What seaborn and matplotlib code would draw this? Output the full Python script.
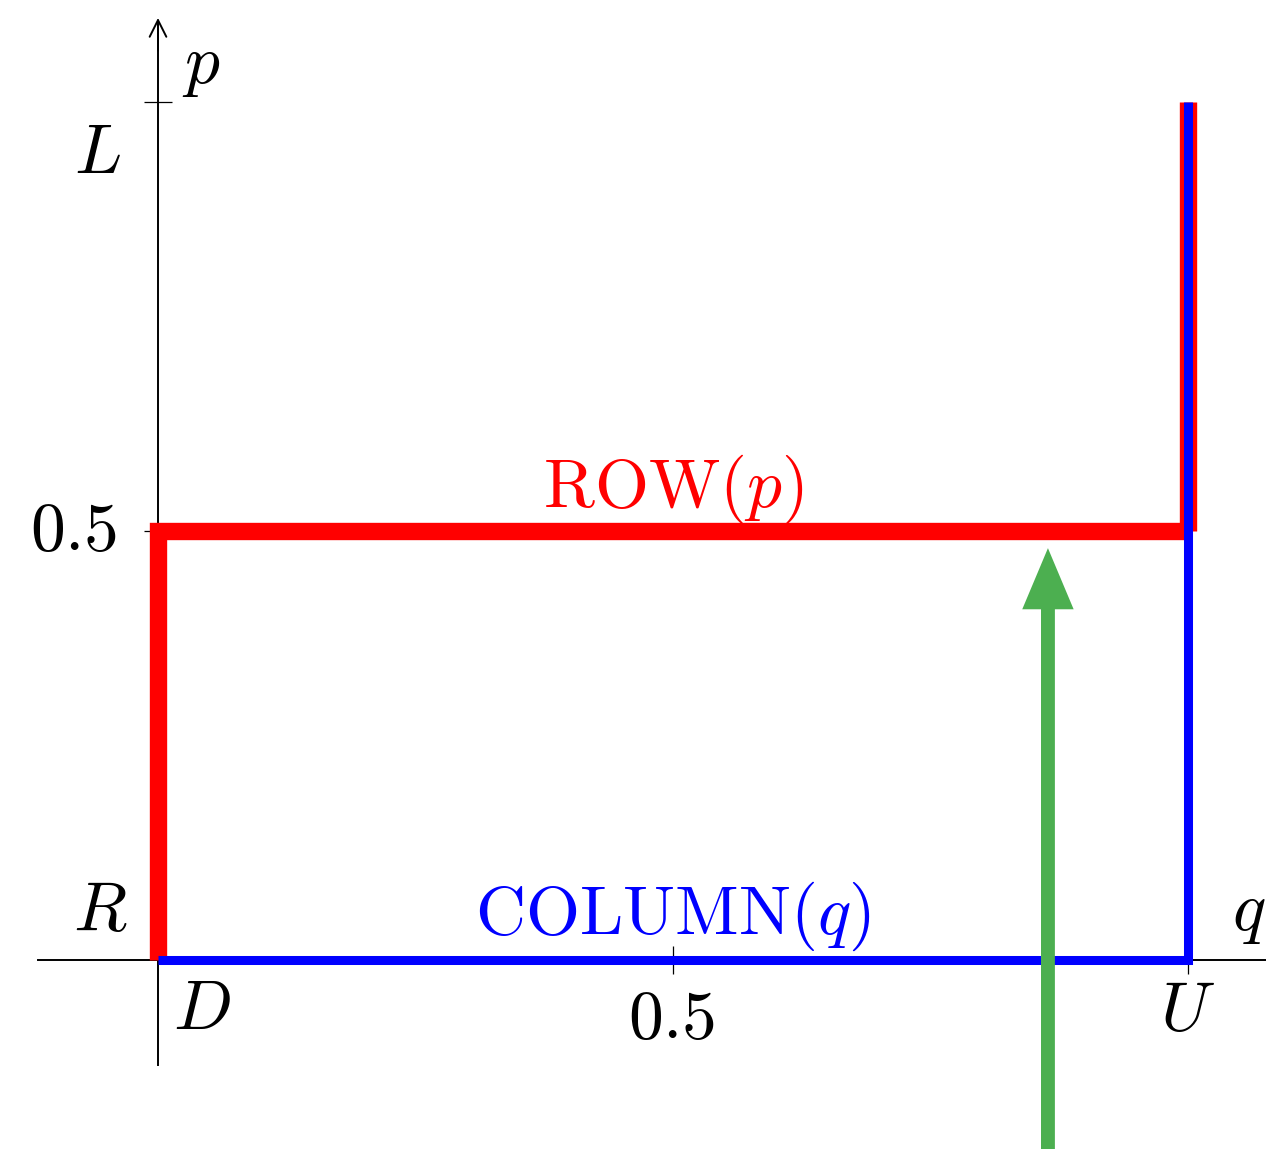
import matplotlib
matplotlib.use("Agg")
import matplotlib.pyplot as plt
import seaborn as sns

# Best-response paths in the (q, p) unit square
row_q = [0.0, 0.0, 1.0]
row_p = [0.0, 0.5, 0.5]
row_top_q = [1.0, 1.0]
row_top_p = [0.5, 1.0]
col_q = [0.0, 1.0, 1.0]
col_p = [0.0, 0.0, 1.0]

x_ticks = [0.5, 1.0]
y_ticks = [0.5, 1.0]

# Equilibrium pointer
arrow_q = 0.864
arrow_tip_p = 0.48

sns.set_style("white")
plt.rcParams["mathtext.fontset"] = "cm"
plt.rcParams["font.family"] = ["DejaVu Serif", "DejaVu Sans"]
plt.rcParams["text.color"] = "black"

fig = plt.figure(figsize=(12.66, 11.49), dpi=100)
ax = fig.add_axes([0, 0, 1, 1])
ax.set_xlim(-0.1534, 1.0757)
ax.set_ylim(-0.2203, 1.1189)

RED = "#ff0000"
BLUE = "#0000ff"
GREEN = "#4caf50"
FS = 50

line_kw = dict(sort=False, estimator=None, legend=False, ax=ax,
               solid_joinstyle="miter", solid_capstyle="butt")
sns.lineplot(x=row_q, y=row_p, color=RED, linewidth=12.5, zorder=3, **line_kw)
sns.lineplot(x=row_top_q, y=row_top_p, color=RED, linewidth=12.5, zorder=3, **line_kw)
sns.lineplot(x=col_q, y=col_p, color=BLUE, linewidth=6.5, zorder=4, **line_kw)

# Axes through the origin
for side in ("top", "right"):
    ax.spines[side].set_visible(False)
ax.spines["left"].set_position(("data", 0))
ax.spines["bottom"].set_position(("data", 0))
ax.spines["left"].set_bounds(-0.122, 1.09)
ax.spines["bottom"].set_bounds(-0.1165, 1.0757)
for side in ("left", "bottom"):
    ax.spines[side].set_linewidth(1.4)
    ax.spines[side].set_color("black")
    ax.spines[side].set_zorder(2)
ax.annotate("", xy=(0, 1.098), xytext=(0, 1.06),
            arrowprops=dict(arrowstyle="->,head_length=0.6,head_width=0.3",
                            mutation_scale=20, lw=1.4, color="black",
                            shrinkA=0, shrinkB=0))

ax.set_xticks(x_ticks)
ax.set_yticks(y_ticks)
ax.tick_params(direction="inout", length=20, width=0.9, color="black",
               bottom=True, left=True, labelbottom=False, labelleft=False)
ax.set_xlabel("")
ax.set_ylabel("")

# Labels
txt = dict(fontsize=FS, ha="center", va="center", color="black")
ax.text(0.0417, 1.042, "$p$", **txt)
ax.text(-0.0592, 0.9394, "$L$", **txt)
ax.text(-0.0816, 0.5, "$0.5$", **txt)
ax.text(-0.0563, 0.0571, "$R$", **txt)
ax.text(0.0427, -0.0583, "$D$", **txt)
ax.text(0.999, -0.0594, "$U$", **txt)
ax.text(1.059, 0.0548, "$q$", **txt)
ax.text(0.499, -0.0688, "$0.5$", **txt)
ax.text(0.5, 0.549, r"$\mathrm{ROW}(p)$", fontsize=FS, ha="center",
        va="center", color=RED)
ax.text(0.5, 0.0513, r"$\mathrm{COLUMN}(q)$", fontsize=FS, ha="center",
        va="center", color=BLUE)

ax.annotate("", xy=(arrow_q, arrow_tip_p), xytext=(arrow_q, -0.26),
            arrowprops=dict(arrowstyle="simple,head_length=44,head_width=37,tail_width=10",
                            mutation_scale=1, color=GREEN, lw=0,
                            shrinkA=0, shrinkB=0), zorder=5)

fig.savefig("out.png", dpi=100)
